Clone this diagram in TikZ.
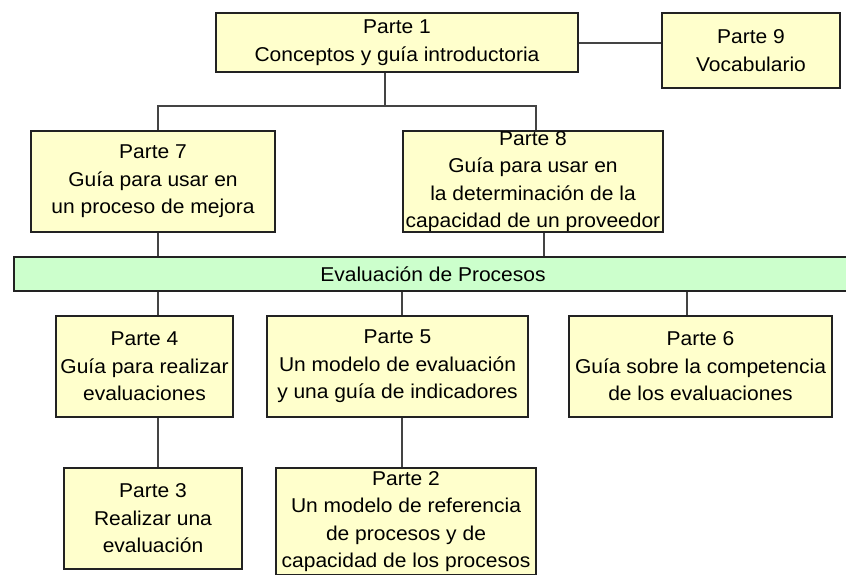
\documentclass[tikz,border=0pt]{standalone}
\usepackage{fontspec}
\setmainfont[FakeStretch=1.05]{Liberation Sans}
\definecolor{boxfill}{HTML}{FFFFCC}
\definecolor{barfill}{HTML}{CCFFCC}
\definecolor{edge}{HTML}{222222}
\definecolor{wire}{HTML}{444444}
\begin{document}
\begin{tikzpicture}[x=1pt,y=-1pt,
  partbox/.style={draw=edge,line width=1.8pt,fill=boxfill,inner sep=0pt,align=center,
    font=\fontsize{20}{27.5}\selectfont},
  barbox/.style={draw=edge,line width=1.8pt,fill=barfill,inner sep=0pt,
    font=\fontsize{20}{27.5}\selectfont},
  wirestyle/.style={draw=wire,line width=2pt}]
\useasboundingbox (0,0) rectangle (846,574);
\fill[white] (0,0) rectangle (846,574);
\coordinate (j1) at (385,106);
\coordinate (j7) at (158,106);
\coordinate (j8) at (536,106);
\coordinate (k8) at (544,0);
\coordinate (k5) at (402,0);
\coordinate (k6) at (687,0);
% boxes
\node[partbox,minimum width=362pt,minimum height=59pt] (p1) at (397,42.5) {Parte 1\\Conceptos y guía introductoria};
\node[partbox,minimum width=178pt,minimum height=75pt] (p9) at (751,50.5) {Parte 9\\Vocabulario};
\node[partbox,minimum width=244pt,minimum height=101pt] (p7) at (153,181.5) {Parte 7\\Guía para usar en\\un proceso de mejora};
\node[partbox,minimum width=260pt,minimum height=101pt] (p8) at (533,181.5) {Parte 8\\Guía para usar en\\la determinación de la\\capacidad de un proveedor};
\node[barbox,minimum width=838pt,minimum height=34pt] (bar) at (433,274) {Evaluación de Procesos};
\node[partbox,minimum width=177pt,minimum height=101pt] (p4) at (144.5,366.5) {Parte 4\\Guía para realizar\\evaluaciones};
\node[partbox,minimum width=261pt,minimum height=101pt] (p5) at (397.5,366.5) {Parte 5\\Un modelo de evaluación\\y una guía de indicadores};
\node[partbox,minimum width=263pt,minimum height=101pt] (p6) at (700.5,366.5) {Parte 6\\Guía sobre la competencia\\de los evaluaciones};
\node[partbox,minimum width=178pt,minimum height=101pt] (p3) at (153,518.5) {Parte 3\\Realizar una\\evaluación};
\node[partbox,minimum width=260pt,minimum height=107pt] (p2) at (406,521.5) {Parte 2\\Un modelo de referencia\\de procesos y de\\capacidad de los procesos};
% connectors
\draw[wirestyle] (p1.east) -- (p1.east -| p9.west);
\draw[wirestyle] (p1.south -| j1) -- (j1);
\draw[wirestyle] (p7.north -| j7) -- (j7) -- (j8) -- (p8.north -| j8);
\draw[wirestyle] (p7.south -| j7) -- (bar.north -| j7);
\draw[wirestyle] (p8.south -| k8) -- (bar.north -| k8);
\draw[wirestyle] (bar.south -| j7) -- (p4.north -| j7);
\draw[wirestyle] (bar.south -| k5) -- (p5.north -| k5);
\draw[wirestyle] (bar.south -| k6) -- (p6.north -| k6);
\draw[wirestyle] (p4.south -| j7) -- (p3.north -| j7);
\draw[wirestyle] (p5.south -| k5) -- (p2.north -| k5);
\end{tikzpicture}
\end{document}
